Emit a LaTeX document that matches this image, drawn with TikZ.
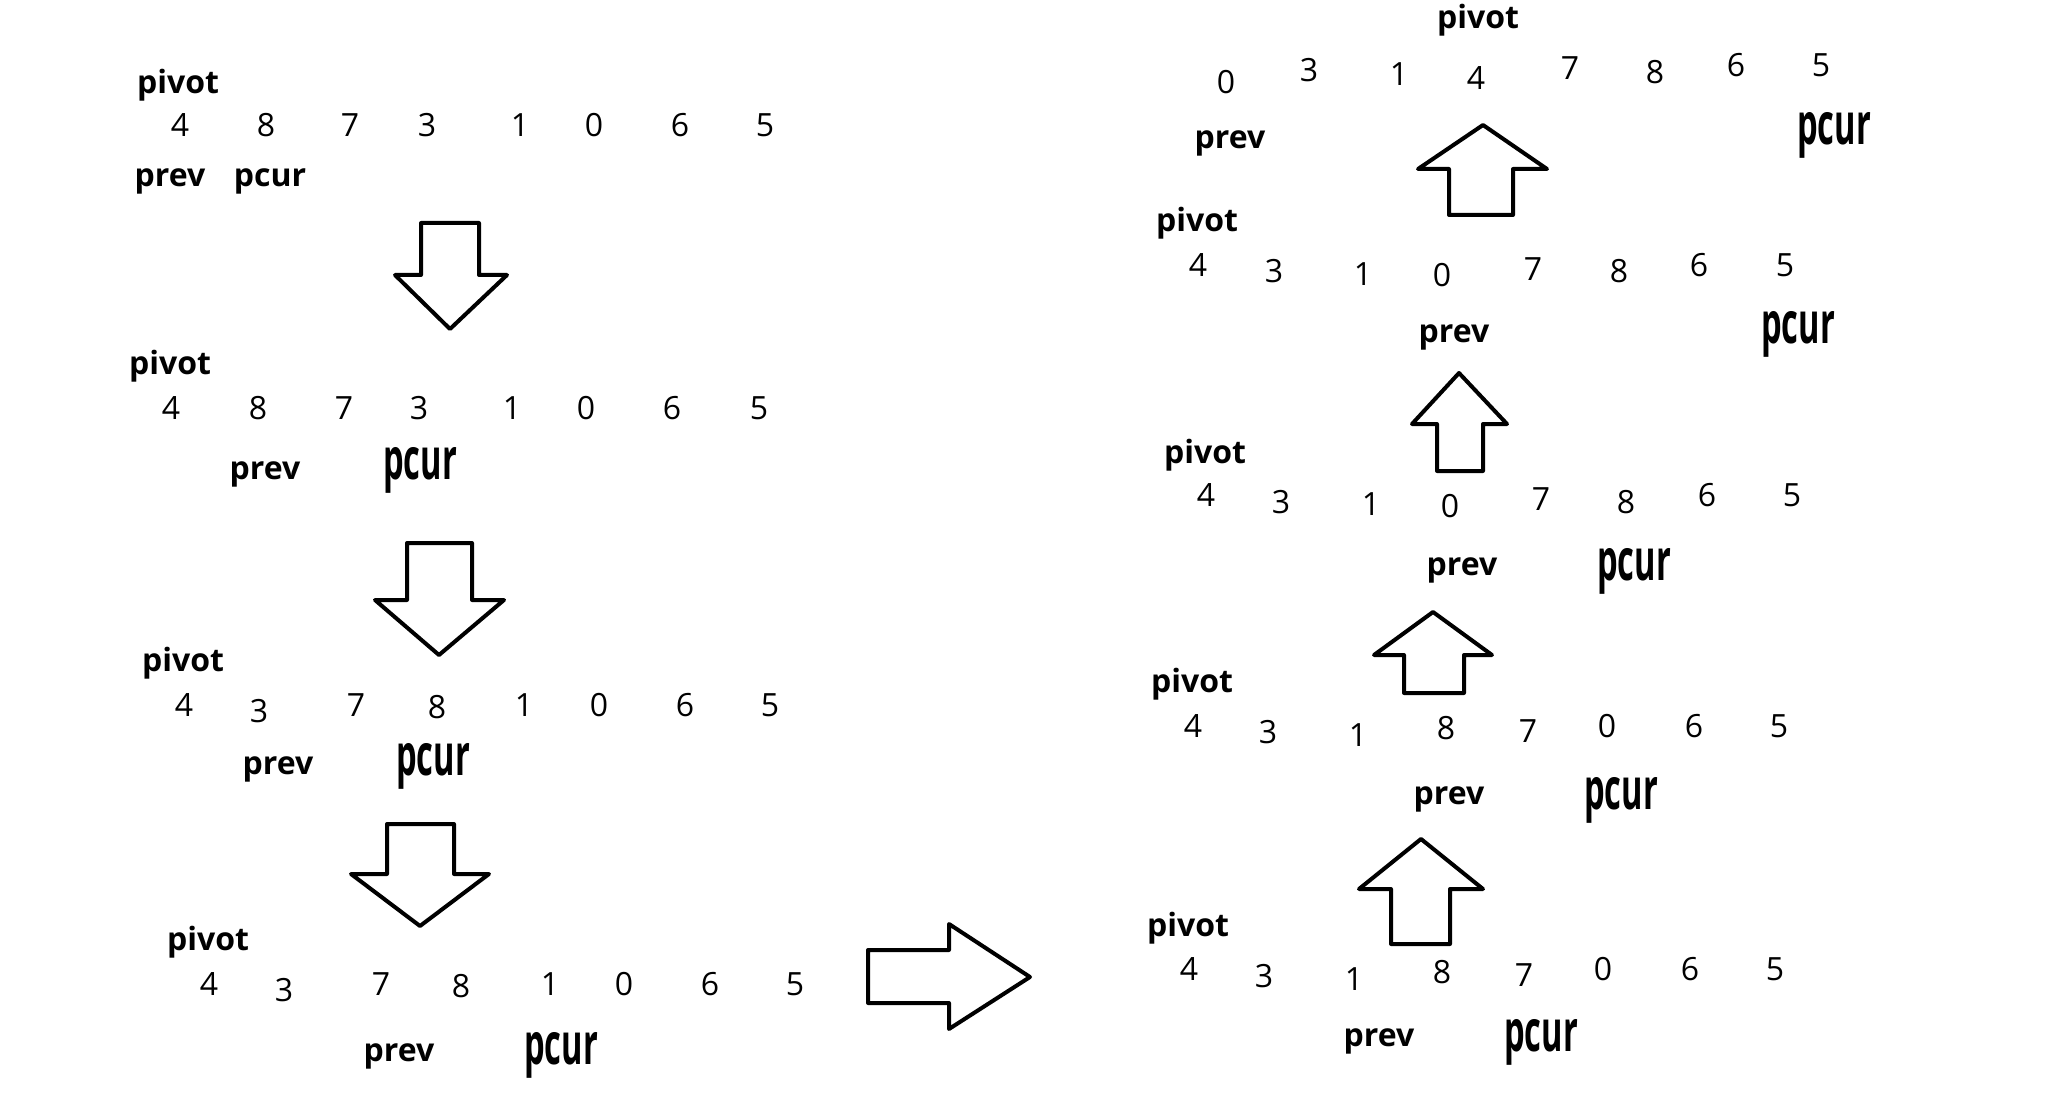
\documentclass[tikz,border=0pt]{standalone}
\usepackage{fontspec}
\setmainfont{Open Sans}
\tikzset{
  num/.style={font=\fontsize{32}{38}\selectfont, inner sep=0pt},
  lbl/.style={font=\fontsize{32}{38}\selectfont\bfseries, inner sep=0pt, yshift=-5pt},
  arr/.style={draw=black, line width=4pt, line join=round, fill=white}
}
\newcommand{\bigpcur}{\scalebox{1.02}[1.8]{pcur}}
\begin{document}
\begin{tikzpicture}[x=1pt,y=-1pt]
\useasboundingbox (0,0) rectangle (2065,1110);
% ---------- left column ----------
% block 1
\node[lbl] (p1) at (178,80) {pivot};
\foreach \v/\x/\y [count=\i] in {4/180/125,8/266/125,7/350/125,3/427/125,1/520/125,0/594/125,6/680/125,5/765/125}
  \node[num] (a\i) at (\x,\y) {\v};
\node[lbl] (pr1) at (170,176) {prev};
\node[lbl] (pc1) at (270,176) {pcur};
% arrow 1
\draw[arr] (421,223) -- (479,223) -- (479,275) -- (507,275) -- (450,329) -- (395,275) -- (421,275) -- cycle;
% block 2
\node[lbl] (p2) at (170,361) {pivot};
\foreach \v/\x/\y [count=\i] in {4/171/408,8/258/408,7/344/408,3/419/408,1/512/408,0/586/408,6/672/408,5/759/408}
  \node[num] (b\i) at (\x,\y) {\v};
\node[lbl] (pr2) at (265,469) {prev};
\node[lbl] (pc2) at (420,465) {\bigpcur};
% arrow 2
\draw[arr] (407,543) -- (472,543) -- (472,600) -- (504,600) -- (439,655) -- (375,600) -- (407,600) -- cycle;
% block 3
\node[lbl] (p3) at (183,658) {pivot};
\foreach \v/\x/\y [count=\i] in {4/184/705,3/259/711,7/356/705,8/437/707,1/524/705,0/599/705,6/685/705,5/770/705}
  \node[num] (c\i) at (\x,\y) {\v};
\node[lbl] (pr3) at (278,764) {prev};
\node[lbl] (pc3) at (433,761) {\bigpcur};
% arrow 3
\draw[arr] (387,824) -- (454,824) -- (454,874) -- (489,874) -- (420,926) -- (351,874) -- (387,874) -- cycle;
% block 4
\node[lbl] (p4) at (208,937) {pivot};
\foreach \v/\x/\y [count=\i] in {4/209/984,3/284/990,7/381/984,8/461/986,1/550/984,0/624/984,6/710/984,5/795/984}
  \node[num] (d\i) at (\x,\y) {\v};
\node[lbl] (pr4) at (399,1051) {prev};
\node[lbl] (pc4) at (561,1050) {\bigpcur};
% right arrow
\draw[arr] (868,950) -- (949,950) -- (949,924) -- (1030,977) -- (949,1029) -- (949,1003) -- (868,1003) -- cycle;
% ---------- right column ----------
% block R1 (bottom)
\node[lbl] (q1) at (1188,923) {pivot};
\foreach \v/\x/\y [count=\i] in {4/1189/969,3/1264/976,1/1354/979,8/1442/972,7/1524/975,0/1603/969,6/1690/969,5/1775/969}
  \node[num] (e\i) at (\x,\y) {\v};
\node[lbl] (qr1) at (1379,1036) {prev};
\node[lbl] (qc1) at (1541,1037) {\bigpcur};
% arrow R2
\draw[arr] (1391,944) -- (1450,944) -- (1450,889) -- (1483,889) -- (1421,839) -- (1359,889) -- (1391,889) -- cycle;
% block R2
\node[lbl] (q2) at (1192,679) {pivot};
\foreach \v/\x/\y [count=\i] in {4/1193/726,3/1268/732,1/1358/735,8/1446/728,7/1528/731,0/1607/726,6/1694/726,5/1779/726}
  \node[num] (f\i) at (\x,\y) {\v};
\node[lbl] (qr2) at (1449,794) {prev};
\node[lbl] (qc2) at (1621,795) {\bigpcur};
% arrow R3
\draw[arr] (1404,693) -- (1464,693) -- (1464,655) -- (1492,655) -- (1433,612) -- (1374,655) -- (1404,655) -- cycle;
% block R3
\node[lbl] (q3) at (1205,450) {pivot};
\foreach \v/\x/\y [count=\i] in {4/1206/495,3/1281/502,1/1371/504,0/1450/506,7/1541/499,8/1626/502,6/1707/495,5/1792/495}
  \node[num] (g\i) at (\x,\y) {\v};
\node[lbl] (qr3) at (1462,565) {prev};
\node[lbl] (qc3) at (1634,566) {\bigpcur};
% arrow R4
\draw[arr] (1437,471) -- (1483,471) -- (1483,424) -- (1507,424) -- (1459,373) -- (1412,424) -- (1437,424) -- cycle;
% block R4
\node[lbl] (q4) at (1197,218) {pivot};
\foreach \v/\x/\y [count=\i] in {4/1198/265,3/1274/271,1/1363/274,0/1442/275,7/1533/269,8/1619/271,6/1699/265,5/1785/265}
  \node[num] (h\i) at (\x,\y) {\v};
\node[lbl] (qr4) at (1454,332) {prev};
\node[lbl] (qc4) at (1798,329) {\bigpcur};
% arrow R5
\draw[arr] (1449,215) -- (1513,215) -- (1513,169) -- (1547,169) -- (1483,125) -- (1418,169) -- (1449,169) -- cycle;
% block R5 (top)
\node[lbl] (q5) at (1478,15) {pivot};
\foreach \v/\x/\y [count=\i] in {0/1226/82,3/1309/70,1/1399/74,4/1476/78,7/1570/68,8/1655/72,6/1736/65,5/1821/65}
  \node[num] (k\i) at (\x,\y) {\v};
\node[lbl] (qr5) at (1230,138) {prev};
\node[lbl] (qc5) at (1834,130) {\bigpcur};
\end{tikzpicture}
\end{document}
